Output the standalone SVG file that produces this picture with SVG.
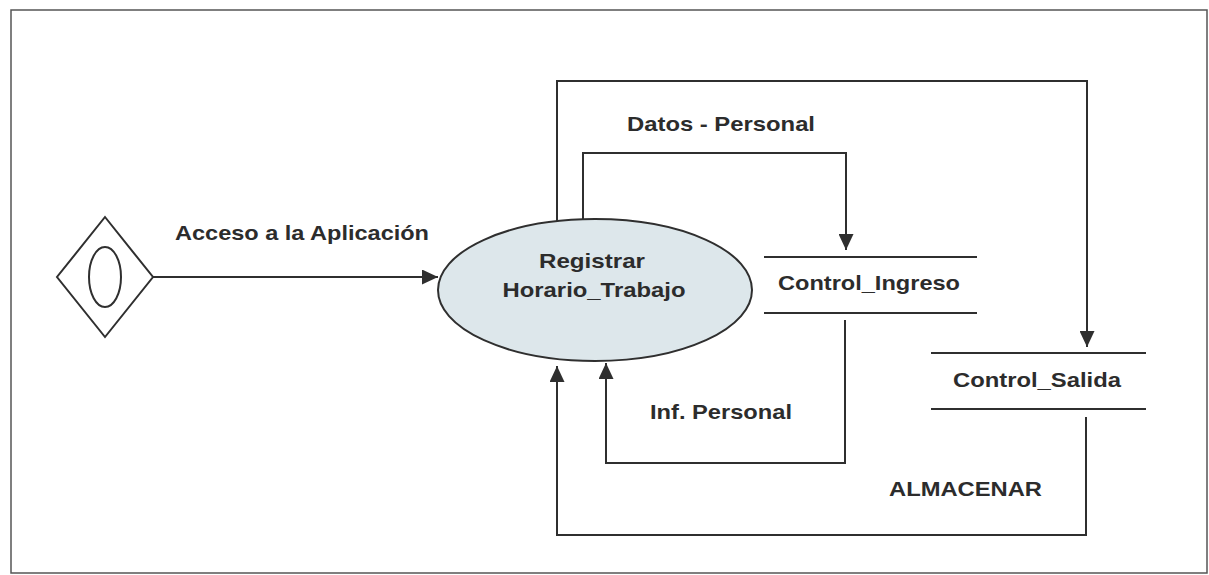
<svg xmlns="http://www.w3.org/2000/svg" width="1209" height="575" viewBox="0 0 1209 575">
  <style>
    .line { fill: none; stroke: #2f2f2f; stroke-width: 2; }
    .store { stroke: #2f2f2f; stroke-width: 2; }
    .lbl { font-family: "Liberation Sans", Arial, sans-serif; font-weight: bold; font-size: 21px; fill: #2c2c2c; }
    .mid { text-anchor: middle; }
  </style>
  <defs>
    <marker id="arrow" markerUnits="userSpaceOnUse" markerWidth="17" markerHeight="15" refX="16" refY="7.5" orient="auto">
      <path d="M0,0 L16,7.5 L0,15 Z" fill="#2f2f2f"/>
    </marker>
  </defs>

  <!-- page frame -->
  <rect x="11" y="10" width="1196" height="563" fill="#ffffff" stroke="#555555" stroke-width="1.5"/>

  <!-- connectors -->
  <g id="connectors">
    <path id="acceso" class="line" d="M153,277 H438" marker-end="url(#arrow)"/>
    <path id="datos-salida" class="line" d="M557,221 V81 H1087 V347" marker-end="url(#arrow)"/>
    <path id="datos-personal" class="line" d="M583,220 V153 H846 V250" marker-end="url(#arrow)"/>
    <path id="inf-personal" class="line" d="M845,320 V463 H606 V363" marker-end="url(#arrow)"/>
    <path id="almacenar" class="line" d="M1086,417 V535 H557 V366" marker-end="url(#arrow)"/>
  </g>

  <!-- connector labels -->
  <g id="labels">
    <text class="lbl" x="175" y="240" textLength="254" lengthAdjust="spacingAndGlyphs">Acceso a la Aplicación</text>
    <text class="lbl" x="627" y="131" textLength="188" lengthAdjust="spacingAndGlyphs">Datos - Personal</text>
    <text class="lbl" x="650" y="419" textLength="142" lengthAdjust="spacingAndGlyphs">Inf. Personal</text>
    <text class="lbl" x="889" y="496" textLength="153" lengthAdjust="spacingAndGlyphs">ALMACENAR</text>
  </g>

  <!-- external entity -->
  <g id="entidad-usuario">
    <polygon class="line" points="105,217 153,277 105,337 57,277"/>
    <ellipse class="line" cx="105" cy="277" rx="16" ry="30"/>
  </g>

  <!-- process -->
  <g id="registrar-horario">
    <ellipse cx="595" cy="290" rx="157" ry="71" fill="#dde7eb" stroke="#2f2f2f" stroke-width="2"/>
    <text class="lbl mid" x="592" y="268" textLength="106" lengthAdjust="spacingAndGlyphs">Registrar</text>
    <text class="lbl mid" x="594" y="297" textLength="183" lengthAdjust="spacingAndGlyphs">Horario_Trabajo</text>
  </g>

  <!-- data stores -->
  <g id="control-ingreso">
    <line class="store" x1="764" y1="257" x2="977" y2="257"/>
    <line class="store" x1="764" y1="313" x2="977" y2="313"/>
    <text class="lbl mid" x="869" y="290" textLength="182" lengthAdjust="spacingAndGlyphs">Control_Ingreso</text>
  </g>

  <g id="control-salida">
    <line class="store" x1="931" y1="353" x2="1146" y2="353"/>
    <line class="store" x1="931" y1="409" x2="1146" y2="409"/>
    <text class="lbl mid" x="1037" y="387" textLength="168" lengthAdjust="spacingAndGlyphs">Control_Salida</text>
  </g>
</svg>
